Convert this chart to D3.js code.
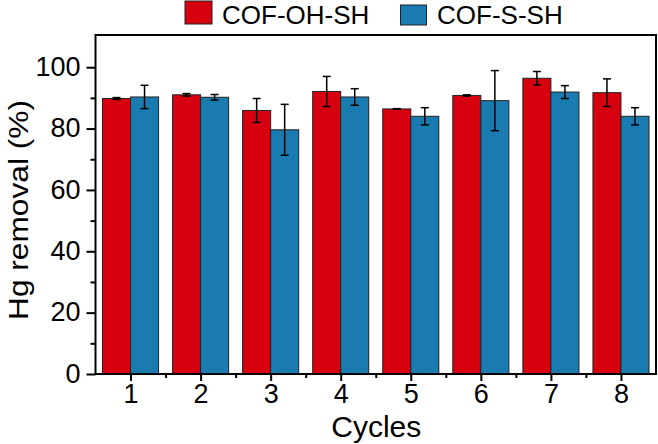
<!DOCTYPE html>
<html>
<head>
<meta charset="utf-8">
<script src="https://cdn.jsdelivr.net/npm/d3@7"></script>
<style>
  html, body { margin: 0; padding: 0; background: #fff; }
  svg { display: block; font-family: "Liberation Sans", Arial, sans-serif; }
</style>
</head>
<body>
<svg id="chart" width="658" height="444"></svg>
<script>
const cycles = [1, 2, 3, 4, 5, 6, 7, 8];
const seriesNames = ["COF-OH-SH", "COF-S-SH"];
const ohValues = [89.8, 91.0, 85.9, 92.1, 86.4, 90.8, 96.4, 91.7];
const ohErrors = [0.3, 0.4, 3.9, 4.9, 0.1, 0.2, 2.2, 4.5];
const sValues = [90.3, 90.2, 79.6, 90.3, 84.0, 89.1, 91.9, 84.0];
const sErrors = [3.8, 0.9, 8.3, 2.7, 2.8, 9.8, 2.1, 2.8];
const yTicks = [0, 20, 40, 60, 80, 100];
const yMinorTicks = [10, 30, 50, 70, 90];
const xMinorTicks = [1.5, 2.5, 3.5, 4.5, 5.5, 6.5, 7.5];
const colors = ["#d7000f", "#1a7bb0"];

const svg = d3.select("#chart");
const mLeft = 95.5, mRight = 656, mTop = 35, mBottom = 374;
const x = d3.scaleLinear().domain([0.5, 8.5]).range([mLeft, mRight]);
const y = d3.scaleLinear().domain([0, 110.5]).range([mBottom, mTop]);
const barW = 0.4;

const series = [
  { name: seriesNames[0], values: ohValues, errors: ohErrors, color: colors[0], offset: -barW },
  { name: seriesNames[1], values: sValues, errors: sErrors, color: colors[1], offset: 0 }
];

// bars
series.forEach(s => {
  const g = svg.append("g");
  g.selectAll("rect").data(cycles).join("rect")
    .attr("x", (c) => x(c + s.offset))
    .attr("width", x(barW) - x(0))
    .attr("y", (c, i) => y(s.values[i]))
    .attr("height", (c, i) => y(0) - y(s.values[i]))
    .attr("fill", s.color)
    .attr("stroke", "#222")
    .attr("stroke-width", 1);
});

// error bars
series.forEach(s => {
  const g = svg.append("g").attr("stroke", "#000").attr("stroke-width", 1.5).attr("fill", "none");
  cycles.forEach((c, i) => {
    const cx = x(c + s.offset + barW / 2);
    const y1 = y(s.values[i] + s.errors[i]);
    const y2 = y(s.values[i] - s.errors[i]);
    g.append("line").attr("x1", cx).attr("x2", cx).attr("y1", y1).attr("y2", y2);
    g.append("line").attr("x1", cx - 4).attr("x2", cx + 4).attr("y1", y1).attr("y2", y1);
    g.append("line").attr("x1", cx - 4).attr("x2", cx + 4).attr("y1", y2).attr("y2", y2);
  });
});

// frame
svg.append("rect")
  .attr("x", mLeft).attr("y", mTop)
  .attr("width", mRight - mLeft).attr("height", mBottom - mTop)
  .attr("fill", "none").attr("stroke", "#000").attr("stroke-width", 2);

// y axis
const yAxis = svg.append("g").attr("transform", `translate(${mLeft},0)`)
  .call(d3.axisLeft(y).tickValues(yTicks).tickSize(9).tickPadding(6).tickFormat(d3.format("d")));
yAxis.select(".domain").remove();
yAxis.selectAll(".tick line").attr("stroke-width", 2);
yAxis.selectAll("text").attr("font-size", 27).attr("fill", "#000").attr("dy", "0.3em")
  .attr("font-family", "Liberation Sans, Arial, sans-serif");
const yMinor = svg.append("g").attr("transform", `translate(${mLeft},0)`)
  .call(d3.axisLeft(y).tickValues(yMinorTicks).tickSize(5).tickFormat(""));
yMinor.select(".domain").remove();
yMinor.selectAll(".tick line").attr("stroke-width", 2);

// x axis
const xAxis = svg.append("g").attr("transform", `translate(0,${mBottom})`)
  .call(d3.axisBottom(x).tickValues(cycles).tickSize(7).tickPadding(3).tickFormat(d3.format("d")));
xAxis.select(".domain").remove();
xAxis.selectAll(".tick line").attr("stroke-width", 2);
xAxis.selectAll("text").attr("font-size", 27).attr("fill", "#000").attr("font-family", "Liberation Sans, Arial, sans-serif");
const xMinor = svg.append("g").attr("transform", `translate(0,${mBottom})`)
  .call(d3.axisBottom(x).tickValues(xMinorTicks).tickSize(4).tickFormat(""));
xMinor.select(".domain").remove();
xMinor.selectAll(".tick line").attr("stroke-width", 2);

// axis titles
svg.append("text")
  .attr("x", (mLeft + mRight) / 2 + 0.5).attr("y", 437)
  .attr("text-anchor", "middle").attr("font-size", 30).attr("fill", "#000")
  .text("Cycles");
svg.append("text")
  .attr("transform", `translate(28,210) rotate(-90)`)
  .attr("text-anchor", "middle").attr("font-size", 27).attr("fill", "#000")
  .attr("textLength", 220).attr("lengthAdjust", "spacingAndGlyphs")
  .text("Hg removal (%)");

// legend
const legend = [
  { name: seriesNames[0], color: colors[0], rx: 185, ry: 1, rw: 27, rh: 23, tx: 222 },
  { name: seriesNames[1], color: colors[1], rx: 400.5, ry: 5, rw: 26, rh: 20, tx: 437 }
];
legend.forEach(l => {
  svg.append("rect").attr("x", l.rx).attr("y", l.ry).attr("width", l.rw).attr("height", l.rh)
    .attr("fill", l.color).attr("stroke", "#222").attr("stroke-width", 1);
  svg.append("text").attr("x", l.tx).attr("y", 24).attr("font-size", 26).attr("fill", "#000").text(l.name);
});
</script>
</body>
</html>
